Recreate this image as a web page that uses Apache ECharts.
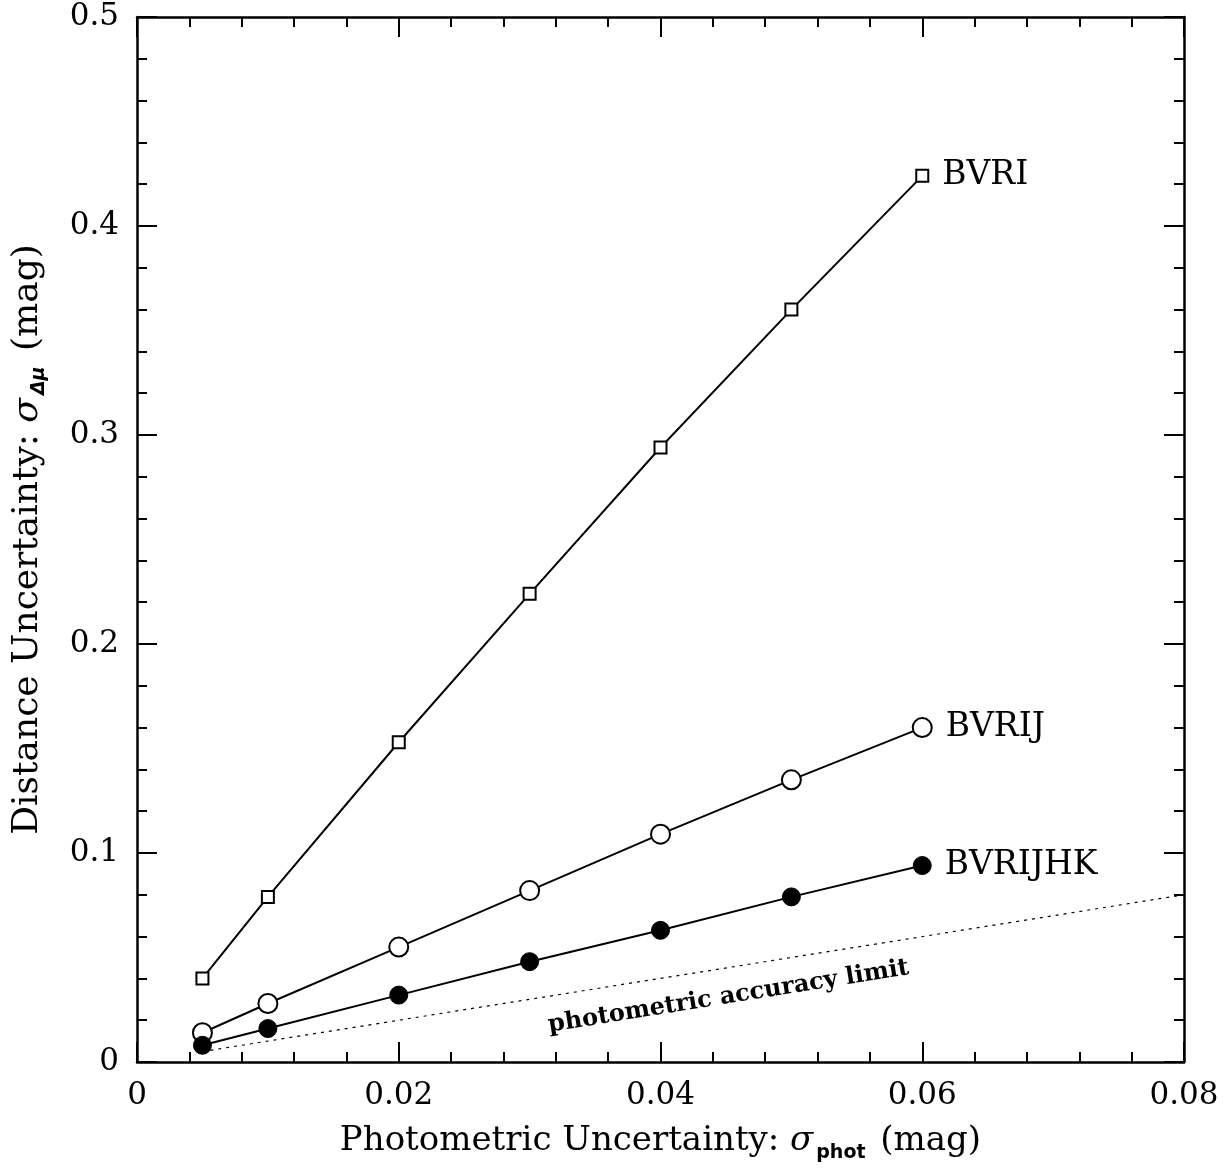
<!DOCTYPE html>
<html><head><meta charset="utf-8">
<script src="https://cdn.jsdelivr.net/npm/echarts@6/dist/echarts.min.js"></script>
<style>html,body{margin:0;padding:0;background:#fff}#c{width:1231px;height:1168px}</style>
</head><body><div id="c"></div>
<script>
const sigmaPhot = [0.005, 0.01, 0.02, 0.03, 0.04, 0.05, 0.06];
const bvri = [0.040, 0.079, 0.153, 0.224, 0.294, 0.360, 0.424];
const bvrij = [0.014, 0.028, 0.055, 0.082, 0.109, 0.135, 0.160];
const bvrijhk = [0.008, 0.016, 0.032, 0.048, 0.063, 0.079, 0.094];
const limitX = [0.005, 0.08];
const limitY = [0.005, 0.08];
const limitLabelPos = [0.0452, 0.0312];
const seriesNames = ['BVRI', 'BVRIJ', 'BVRIJHK'];

const FONT = '"DejaVu Serif", "Liberation Serif", serif';
const pair = (xs, ys) => xs.map((x, i) => [x, ys[i]]);
const fmt = v => (v === 0 ? '0' : String(+v.toFixed(3)));

function axisCommon(show, margin) {
  return {
    axisLine: { show: true, onZero: false, lineStyle: { color: '#000', width: 2.5 } },
    axisTick: { show: true, inside: true, length: 20, lineStyle: { color: '#000', width: 2 } },
    minorTick: { show: true, length: 10, lineStyle: { color: '#000', width: 2 } },
    splitLine: { show: false },
    axisLabel: { show: show, margin: margin || 8, color: '#000', fontFamily: FONT, fontSize: 31, formatter: fmt }
  };
}

const chart = echarts.init(document.getElementById('c'), null, { renderer: 'canvas' });
const lineStyle = { color: '#000', width: 2 };
function endLabel(name) {
  return {
    show: true, position: 'right', distance: 13, formatter: p => (p.dataIndex === sigmaPhot.length - 1 ? name : ''),
    color: '#000', fontFamily: FONT, fontSize: 33
  };
}
chart.setOption({
  animation: false,
  backgroundColor: '#fff',
  grid: { left: 137, right: 47, top: 17, bottom: 103 },
  xAxis: [
    Object.assign({
      type: 'value', min: 0, max: 0.08, interval: 0.02, position: 'bottom',
      name: '{a|Photometric Uncertainty: }{s|σ}{sub|phot}{a| (mag)}',
      nameLocation: 'middle', nameGap: 58,
      nameTextStyle: {
        rich: {
          a: { fontFamily: FONT, fontSize: 34, color: '#000' },
          s: { fontFamily: FONT, fontSize: 34, fontStyle: 'italic', color: '#000' },
          sub: { fontFamily: '"DejaVu Sans", sans-serif', fontSize: 19, fontWeight: 'bold', color: '#000', padding: [24, 4, 0, 3] }
        }
      }
    }, axisCommon(true, 18)),
    Object.assign({ type: 'value', min: 0, max: 0.08, interval: 0.02, position: 'top' }, axisCommon(false))
  ],
  yAxis: [
    Object.assign({
      type: 'value', min: 0, max: 0.5, interval: 0.1, position: 'left',
      name: '{a|Distance Uncertainty: }{s|σ}{sub|Δμ}{a| (mag)}',
      nameLocation: 'middle', nameGap: 88, nameRotate: 90,
      nameTextStyle: {
        rich: {
          a: { fontFamily: FONT, fontSize: 36, color: '#000' },
          s: { fontFamily: FONT, fontSize: 36, fontStyle: 'italic', color: '#000' },
          sub: { fontFamily: '"DejaVu Sans", sans-serif', fontSize: 19, fontWeight: 'bold', fontStyle: 'italic', color: '#000', padding: [24, 4, 0, 3] }
        }
      }
    }, axisCommon(true, 18)),
    Object.assign({ type: 'value', min: 0, max: 0.5, interval: 0.1, position: 'right' }, axisCommon(false))
  ],
  series: [
    {
      name: 'limit', type: 'line', data: pair(limitX, limitY), symbol: 'none',
      lineStyle: { color: '#000', width: 1.2, type: [3, 5] }, z: 1
    },
    {
      name: 'limitLabel', type: 'scatter', data: [limitLabelPos], symbolSize: 0,
      itemStyle: { opacity: 1 },
      label: {
        show: true, position: 'inside', formatter: 'photometric accuracy limit', rotate: 9.1,
        color: '#000', fontFamily: FONT, fontSize: 24, fontWeight: 'bold'
      }
    },
    {
      name: seriesNames[0], type: 'line', data: pair(sigmaPhot, bvri),
      symbol: 'rect', symbolSize: 12, lineStyle: lineStyle,
      itemStyle: { color: '#fff', borderColor: '#000', borderWidth: 2 },
      label: endLabel(seriesNames[0]), z: 3
    },
    {
      name: seriesNames[1], type: 'line', data: pair(sigmaPhot, bvrij),
      symbol: 'circle', symbolSize: 19, lineStyle: lineStyle,
      itemStyle: { color: '#fff', borderColor: '#000', borderWidth: 2 },
      label: endLabel(seriesNames[1]), z: 3
    },
    {
      name: seriesNames[2], type: 'line', data: pair(sigmaPhot, bvrijhk),
      symbol: 'circle', symbolSize: 18, lineStyle: lineStyle,
      itemStyle: { color: '#000', borderColor: '#000', borderWidth: 1 },
      label: endLabel(seriesNames[2]), z: 3
    }
  ]
});
</script></body></html>
